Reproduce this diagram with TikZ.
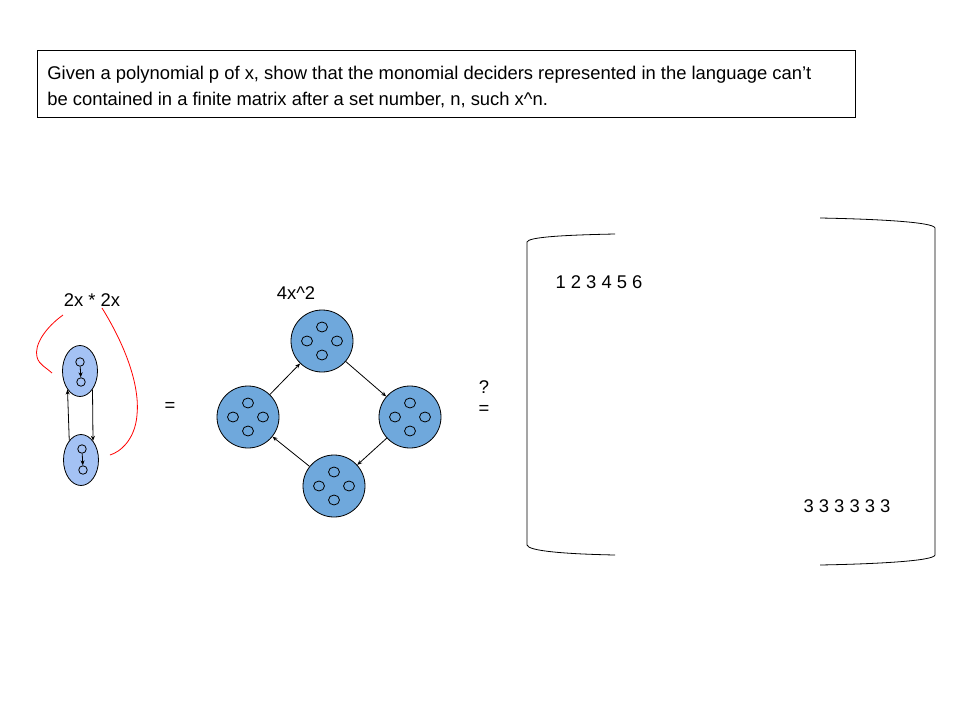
\documentclass[tikz,border=0pt]{standalone}
\usepackage{fontspec}
\setmainfont{Liberation Sans}
\usetikzlibrary{arrows.meta, shapes.geometric}

\definecolor{paleblob}{HTML}{A4C2F4}
\definecolor{blob}{HTML}{6FA8DC}

\begin{document}
\begin{tikzpicture}[x=1pt, y=-1pt, line width=0.8pt,
	>={Stealth[length=5pt, width=4pt]},
	lbl/.style={font=\fontsize{18.4}{22}\selectfont, inner sep=0pt},
	factor/.style={ellipse, draw, fill=paleblob, minimum width=35pt, minimum height=51pt, inner sep=0pt},
	dot/.style={circle, draw, minimum size=8.5pt, inner sep=0pt},
	product/.style={circle, draw, fill=blob, minimum size=62pt, inner sep=0pt},
	seed/.style={ellipse, draw, minimum width=11pt, minimum height=10pt, inner sep=0pt}]
	\useasboundingbox (0,0) rectangle (960,720);

		%statement
	\node[draw, anchor=north west, minimum width=818pt, minimum height=67pt] (task) at (37,50) {};
	\node[anchor=west, align=left, inner sep=0pt, font=\fontsize{18.4}{26}\selectfont]
		(taskText) at ([xshift=10pt, yshift=-3pt]task.west)
		{Given a polynomial p of x, show that the monomial deciders represented in the language can’t\\
		be contained in a finite matrix after a set number, n, such x\textasciicircum n.};

		%2x * 2x
	\node[lbl] (lhs) at (92,300) {2x * 2x};
	\node[factor] (f1) at (80,371) {};
	\node[factor] (f2) at (81,460) {};
	\node[dot] (f1a) at (80,362) {};
	\node[dot] (f1b) at (81,382) {};
	\node[dot] (f2a) at (82,449) {};
	\node[dot] (f2b) at (83,470) {};
	\draw[->] (f1a) -- (f1b);
	\draw[->] (f2a) -- (f2b);
	\draw[->] (f2.121) -- (f1.236);
	\draw[->] (f1.304) -- (f2.58);

		%red brackets
	\draw[red] (63,315) .. controls (45,328) and (34,345) .. (37,357)
		.. controls (39,365) and (47,368) .. (52,373);
	\draw[red] (102,308) .. controls (125,345) and (140,385) .. (137,415)
		.. controls (135,440) and (120,452) .. (110,455);

	\node[lbl] (eq) at (170,407) {=};

		%4x^2
	\node[lbl] (rhs) at (296,293) {4x\textasciicircum 2};
	\node[product] (s1) at (248,417) {};
	\node[product] (s2) at (322,341) {};
	\node[product] (s3) at (410,417) {};
	\node[product] (s4) at (334,486) {};
	\foreach \s in {s1,s2,s3,s4} {
		\node[seed] (\s n) at ([yshift=14pt]\s.center) {};
		\node[seed] (\s s) at ([yshift=-14pt]\s.center) {};
		\node[seed] (\s w) at ([xshift=-15pt]\s.center) {};
		\node[seed] (\s e) at ([xshift=15pt]\s.center) {};
	}
	\draw[->] (s1) -- (s2);
	\draw[->] (s2) -- (s3);
	\draw[->] (s3) -- (s4);
	\draw[->] (s4) -- (s1);

	\node[lbl] (ask) at (484,387) {?};
	\node[lbl] (eq2) at (484,410) {=};

		%matrix
	\draw (615,234) .. controls (565,235) and (528,237) .. (527,242)
		-- (527,545) .. controls (528,551) and (565,554) .. (615,555);
	\draw (820,218) .. controls (875,219) and (934,222) .. (935,228)
		-- (935,555) .. controls (934,561) and (875,564) .. (820,565);
	\node[lbl] (row1) at (599,282) {1 2 3 4 5 6};
	\node[lbl] (rown) at (847,506) {3 3 3 3 3 3};
\end{tikzpicture}
\end{document}
